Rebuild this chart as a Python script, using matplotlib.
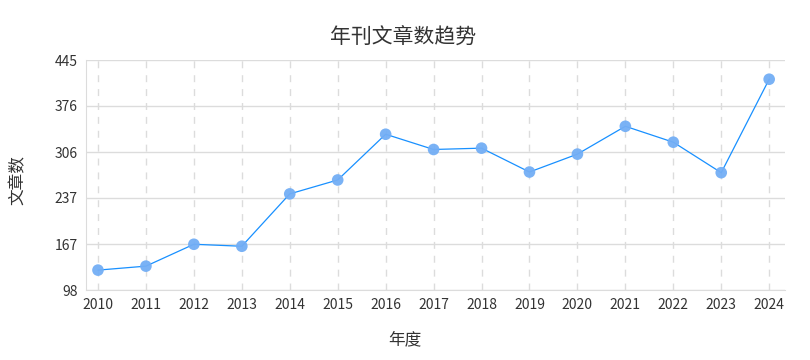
import matplotlib

matplotlib.use("Agg")
import matplotlib.pyplot as plt

plt.rcParams["font.family"] = ["Noto Sans CJK SC", "DejaVu Sans"]

years = [2010, 2011, 2012, 2013, 2014, 2015, 2016, 2017, 2018, 2019, 2020, 2021, 2022, 2023, 2024]
counts = [128, 134, 167, 164, 243, 264, 333, 310, 312, 276, 303, 345, 321, 275, 416]
y_ticks = [98, 167, 237, 306, 376, 445]

LINE = "#1890ff"
MARK = "#73aef5"
GRID = "#dcdcdc"
TEXT = "#333333"

fig = plt.figure(figsize=(8.1, 3.6), dpi=100)
ax = fig.add_axes([86 / 810, 70 / 360, (785 - 86) / 810, 230 / 360])

ax.plot(years, counts, color=LINE, linewidth=0.9, zorder=3)
ax.scatter(years, counts, s=70, color=MARK, edgecolors="none", alpha=0.95, zorder=4)

ax.set_xlim(2009.75, 2024.33)
ax.set_ylim(y_ticks[0], y_ticks[-1])
ax.set_xticks(years)
ax.set_xticklabels([str(y) for y in years])
ax.set_yticks(y_ticks)

ax.yaxis.grid(True, color=GRID, linewidth=1.0)
ax.xaxis.grid(True, color=GRID, linewidth=1.0, linestyle=(0, (5, 5)))
ax.set_axisbelow(True)

for side in ["top", "right"]:
    ax.spines[side].set_visible(False)
ax.spines["left"].set_color(GRID)
ax.spines["bottom"].set_color(GRID)
ax.tick_params(length=0, labelsize=10, colors=TEXT, pad=6)

# axis titles are centred on the figure, not on the plot area
fig.text(405 / 810, 1 - 340 / 360, "年度", fontsize=12, color=TEXT,
         ha="center", va="center")
fig.text(18 / 810, 1 - 180 / 360, "文章数", fontsize=12, color=TEXT,
         ha="center", va="center", rotation=90)
fig.text(403 / 810, 1 - 38 / 360, "年刊文章数趋势", fontsize=15, color=TEXT,
         ha="center", va="center")

fig.savefig("out.png", dpi=100)
